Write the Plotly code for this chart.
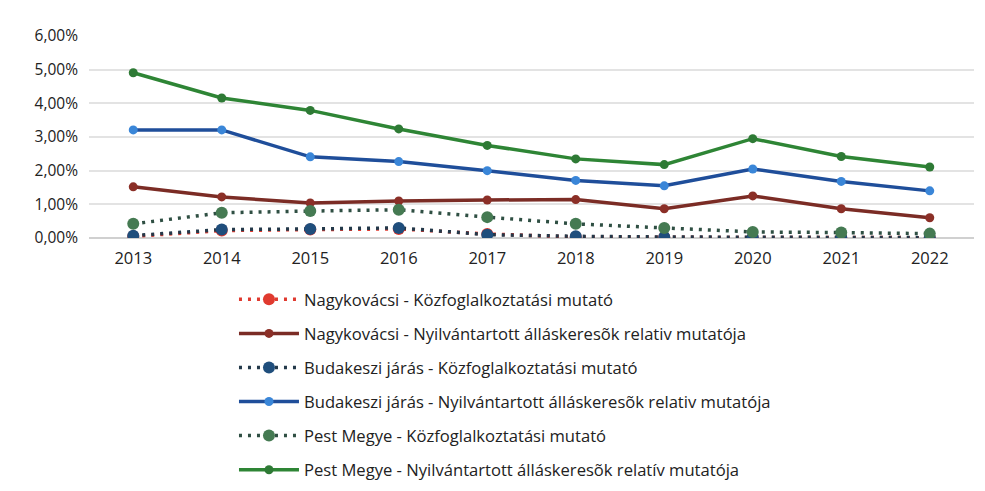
import plotly.graph_objects as go

years = ["2013", "2014", "2015", "2016", "2017", "2018", "2019", "2020", "2021", "2022"]

nagy_kozfog = [0.05, 0.22, 0.25, 0.27, 0.12, 0.03, 0.02, 0.01, 0.01, 0.01]
nagy_nyilv = [1.52, 1.22, 1.04, 1.10, 1.13, 1.14, 0.87, 1.25, 0.87, 0.60]
buda_kozfog = [0.07, 0.25, 0.27, 0.30, 0.10, 0.05, 0.03, 0.02, 0.01, 0.01]
buda_nyilv = [3.21, 3.21, 2.41, 2.27, 2.00, 1.71, 1.55, 2.05, 1.68, 1.40]
pest_kozfog = [0.42, 0.75, 0.80, 0.84, 0.62, 0.42, 0.30, 0.18, 0.16, 0.13]
pest_nyilv = [4.91, 4.16, 3.79, 3.24, 2.75, 2.35, 2.18, 2.95, 2.42, 2.11]

names = [
    "Nagykovácsi - Közfoglalkoztatási mutató",
    "Nagykovácsi - Nyilvántartott álláskeresõk relativ mutatója",
    "Budakeszi járás - Közfoglalkoztatási mutató",
    "Budakeszi járás - Nyilvántartott álláskeresõk relativ mutatója",
    "Pest Megye - Közfoglalkoztatási mutató",
    "Pest Megye - Nyilvántartott álláskeresõk relatív mutatója",
]

y_ticks = [0, 1, 2, 3, 4, 5, 6]
y_ticktext = ["0,00%", "1,00%", "2,00%", "3,00%", "4,00%", "5,00%", "6,00%"]

series = [
    (nagy_kozfog, names[0], "#e03a2f", "#e03a2f", "3px,6px", 12, 3.5),
    (nagy_nyilv, names[1], "#7b2c25", "#8b2f27", "solid", 9, 3.5),
    (buda_kozfog, names[2], "#23394a", "#1f4e7c", "3px,6px", 12, 3.5),
    (buda_nyilv, names[3], "#1f4e9a", "#3a86d8", "solid", 9, 3.5),
    (pest_kozfog, names[4], "#2f4f43", "#457a52", "3px,6px", 12, 3.5),
    (pest_nyilv, names[5], "#2e8535", "#2e7a35", "solid", 9, 3.5),
]

fig = go.Figure()
for i, (vals, name, lc, mc, dash, ms, lw) in enumerate(series):
    fig.add_trace(go.Scatter(
        x=years, y=vals, name=name, mode="lines+markers",
        line=dict(color=lc, width=lw, dash=dash),
        marker=dict(color=mc, size=ms),
        legendgroup=f"g{i}",
    ))

fig.update_layout(
    width=977, height=483,
    margin=dict(l=81, r=11, t=28, b=253, autoexpand=False),
    paper_bgcolor="white", plot_bgcolor="white",
    font=dict(family="Open Sans, Liberation Sans, sans-serif", color="#333333"),
    showlegend=True,
    legend=dict(
        orientation="v", xref="container", yref="container",
        x=0.2313, xanchor="left", y=0.4327, yanchor="top",
        font=dict(size=16.6, color="#222222"),
        tracegroupgap=9.5, itemwidth=60,
        bgcolor="rgba(0,0,0,0)",
    ),
    xaxis=dict(
        type="category", range=[-0.5, 9.5], showgrid=False, showline=False,
        ticks="", ticklabelstandoff=8, tickfont=dict(size=16.5, color="#222222"),
    ),
    yaxis=dict(
        range=[0, 6], tickvals=y_ticks, ticktext=y_ticktext,
        showgrid=True, gridcolor="#e3e3e3", gridwidth=1.5,
        zeroline=True, zerolinecolor="#d0d0d0", zerolinewidth=1.5,
        showline=False, ticks="", ticklen=0, ticklabelstandoff=10,
        tickfont=dict(size=15.5, color="#222222"),
    ),
)

fig.write_html("out.html")
